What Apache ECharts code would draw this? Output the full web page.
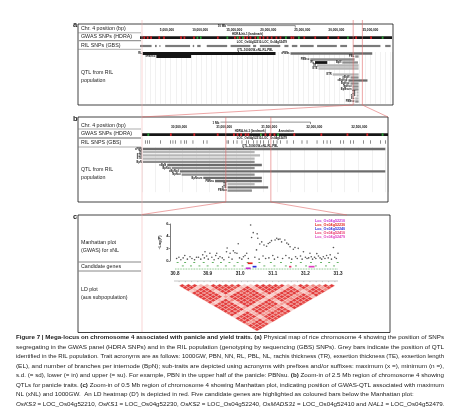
<!DOCTYPE html>
<html>
<head>
<meta charset="utf-8">
<script src="https://cdn.jsdelivr.net/npm/echarts@6/dist/echarts.min.js"></script>
<style>
  html, body { margin: 0; padding: 0; background: #fff; }
  #chart { width: 464px; height: 412px; }
</style>
</head>
<body>
<div id="chart"></div>
<script>
// ---------- data ----------
// chromosome coordinates in Mb
const ticksA = [5, 10, 15, 20, 25, 30, 35];
const ticksB = [30.5, 31.0, 31.5, 32.0, 32.5];
const zoomA = [31.3, 32.65];      // window of panel b, marked on a
const zoomB = [30.93, 31.43];     // window of panel c, marked on b
const scaleA = [12.8, 10];        // 10 Mb ruler
const scaleB = [30.87, 1];        // 1 Mb ruler

// GWAS (HDRA) SNP track, coloured hits
const gwasRedA = [0.5, 1.0, 1.5, 2.7, 3.4, 5.9, 6.4, 7.8, 11.3, 13.8, 14.5, 15.2, 15.6, 16.1, 16.8, 17.5, 18.0, 18.6, 19.2, 19.9, 20.5, 22.1, 22.4, 24.0, 25.6, 27.5, 29.0, 31.6, 33.8];
const gwasGreenA = [8.3, 8.8, 12.7, 14.2, 15.0, 17.2, 21.3, 23.2, 30.4, 35.5];
const gwasRedB = [30.31, 30.57, 30.83, 31.01, 31.05, 31.09, 31.14, 31.17, 31.31, 31.36, 31.41, 31.46, 31.68, 31.98, 32.27, 32.49];
const gwasGreenB = [30.06, 31.31, 31.5, 32.66];

// RIL (GBS) SNP track
const rilA = [[0, 1.7], [2.2, 2.45], [2.85, 3.0], [3.7, 7.35], [7.75, 7.95], [8.4, 8.9], [9.8, 12.8], [13.3, 16.2], [16.6, 17.05], [17.6, 20.6], [21.2, 21.8], [22.3, 23.1], [23.5, 25.5], [26.0, 28.9], [29.4, 30.4], [31.3, 35.3], [36.0, 36.8]];
const rilB = [30.033, 30.059, 30.081, 30.2, 30.311, 30.34, 30.366, 30.429, 30.466, 30.488, 30.562, 30.681, 30.718, 30.94, 30.958, 31.013, 31.051, 31.106, 31.154, 31.18, 31.236, 31.273, 31.31, 31.347, 31.4, 31.457, 31.495, 31.532, 31.606, 31.68, 31.772, 31.828, 31.939, 32.013, 32.05, 32.087, 32.198, 32.235, 32.309, 32.345, 32.456, 32.531, 32.642, 32.697];

// annotation labels on the tracks
const annotTextA = ['HDRA-hit-1 (landmark)', 'LOC_Os04g52210-LOC_Os04g52479', 'QTL-1000GW-xNL-RL-PBL'];
const annotPosA = [15.8, 17.9, 16.9];
const annotTextB = ['HDRA-hit-1 (landmark)', 'Annotation', 'LOC_Os04g52210-LOC_Os04g52479', 'QTL-1000GW-xNL-RL-PBL'];
const annotPosB = [31.2, 31.6, 31.33, 31.31];

// QTL from RIL population: [start Mb, end Mb, track, shade, trait]
const qtlA = [
  [0.4, 19.9, 0, 0, 'RL'],
  [22.1, 34.1, 0, 1, 'xPBNs'],
  [2.4, 7.5, 1, 0, 'xPBNsu'],
  [31.6, 32.1, 1, 2, 'PBL'],
  [25.0, 31.5, 2, 2, 'PBNsu'],
  [25.7, 27.5, 3, 0, 'RL'],
  [29.7, 32.0, 3, 2, 'BpN'],
  [26.0, 32.1, 4, 3, 'TR'],
  [26.2, 32.1, 5, 3, 'ETE'],
  [28.3, 32.1, 7, 3, 'ETR'],
  [30.9, 32.1, 8, 2, 'nBpN'],
  [30.6, 33.4, 9, 1, 'xBpNsd'],
  [30.9, 32.1, 10, 2, 'BpNsu'],
  [31.2, 32.1, 11, 2, 'NpNsu'],
  [31.2, 32.1, 12, 2, 'BpNsum'],
  [31.8, 32.1, 13, 3, 'TE'],
  [31.8, 32.1, 14, 3, 'nTE'],
  [31.6, 32.1, 15, 3, 'EL'],
  [31.6, 32.1, 16, 2, 'PBNsu']
];
const qtlB = [
  [30.01, 32.70, 0, 1, 'xPBN'],
  [30.01, 31.25, 1, 3, 'TR'],
  [30.01, 31.31, 2, 3, 'ETR'],
  [30.01, 31.25, 3, 3, 'ETE'],
  [30.01, 31.25, 4, 2, 'BpN'],
  [30.28, 31.33, 5, 1, 'nBpN'],
  [30.33, 31.25, 6, 2, 'BpNsu'],
  [30.42, 32.70, 7, 1, 'xBpNsd'],
  [30.44, 31.25, 8, 2, 'NpNsu'],
  [30.68, 31.33, 9, 1, 'BpNsum'],
  [30.81, 31.33, 10, 1, 'PBNsu'],
  [30.95, 31.25, 11, 3, 'TE'],
  [30.95, 31.40, 12, 1, 'nTE'],
  [30.95, 31.22, 13, 2, 'PBNsu']
];

// Manhattan plot (GWAS) for xNL
const snpPos = [30.892, 30.897, 30.907, 30.928, 30.938, 30.958, 30.96, 30.969, 30.979, 30.984, 30.99, 30.994, 31.01, 31.02,
  31.032, 31.035, 31.04, 31.05, 31.052, 31.054, 31.06, 31.066, 31.073, 31.081, 31.086, 31.091, 31.096, 31.107, 31.112, 31.117,
  31.122, 31.127, 31.137, 31.143, 31.148, 31.153, 31.163, 31.168, 31.178, 31.194, 31.214, 31.235, 31.276, 31.286, 31.30,
  30.805, 30.812, 30.818, 30.825, 30.83, 30.838, 30.846, 30.852, 30.86, 30.866, 30.872, 30.879, 30.885, 30.89, 30.902,
  30.913, 30.92, 30.925, 30.933, 30.945, 30.95, 30.965, 30.975, 30.998, 31.005, 31.015, 31.025, 31.045, 31.058, 31.07,
  31.078, 31.088, 31.1, 31.105, 31.115, 31.13, 31.14, 31.15, 31.158, 31.17, 31.175, 31.185, 31.19, 31.2, 31.205,
  31.21, 31.218, 31.222, 31.228, 31.232, 31.24, 31.245, 31.25, 31.255, 31.26, 31.265, 31.27, 31.28, 31.29, 31.295];
const snpLogP = [1.5, 0.8, 1.25, 1.25, 0.7, 1.5, 2.1, 1.25, 1.65, 1.35, 1.25, 2.8, 0.7, 1.25,
  5.85, 3.8, 4.6, 1.8, 4.4, 3.7, 2.75, 3.1, 2.6, 2.4, 2.85, 3.0, 3.3, 3.4, 3.7, 3.5,
  3.55, 3.1, 3.4, 2.9, 2.7, 2.3, 1.9, 2.2, 2.05, 1.5, 1.25, 1.2, 1.0, 2.2, 1.25,
  0.4, 0.6, 0.2, 0.5, 0.9, 0.3, 0.7, 0.4, 0.2, 0.6, 0.6, 0.3, 1.0, 0.5, 0.3,
  0.6, 0.2, 0.9, 0.4, 0.5, 0.2, 0.6, 0.3, 0.5, 0.3, 0.9, 0.4, 0.6, 0.3, 0.8,
  0.4, 0.5, 0.9, 0.3, 0.6, 0.4, 0.9, 0.5, 0.3, 0.7, 0.4, 0.8, 0.3, 0.6, 0.4,
  0.5, 0.7, 0.3, 0.6, 0.4, 0.8, 0.5, 0.3, 0.7, 0.4, 0.9, 0.5, 0.3, 0.6, 0.4];

// gene models (green) and candidate genes
const geneRowTop = [30.805, 30.828, 30.856, 30.885, 30.913, 30.938, 30.964, 30.989, 31.02, 31.056, 31.091, 31.122, 31.153, 31.183, 31.214, 31.245, 31.27, 31.296];
const geneRowMid = [30.821, 30.846, 30.872, 30.897, 30.928, 30.953, 30.979, 31.004, 31.071, 31.102, 31.137, 31.168, 31.199, 31.229, 31.26, 31.285];
const candNames = ['Loc_Os04g52210', 'Loc_Os04g52230', 'Loc_Os04g52240', 'Loc_Os04g52410', 'Loc_Os04g52479'];
const candStart = [31.017, 31.023, 31.038, 31.150, 31.210];
const candEnd = [31.032, 31.038, 31.050, 31.157, 31.228];
const candTrack = [2, 0, 1, 1, 1];

// LD heatmap (D'), aus subpopulation: row i holds D' level (0-9) for markers j > i
const ldRows = [
  '9982989979398997929895989',
  '993899899289989938994899',
  '92998998399899829985998',
  '3999899298998939894998',
  '324232435232423342353',
  '99899399899928995899',
  '9899298998939984998',
  '998399989929895989',
  '87278788738784787',
  '9399899829985998',
  '298998939894989',
  '23424325324232',
  '9989928995899',
  '999839984998',
  '89929895989',
  '9839984998',
  '928995899',
  '39894989',
  '3242353',
  '995899',
  '84998',
  '5989',
  '545',
  '98',
  '9'
];

// ---------- styles ----------
const FONT = "'Liberation Sans', Arial, Helvetica, sans-serif";
const shadeColors = ['#151515', '#6c6c6c', '#8d8d8d', '#b6b6b6'];
const stripStyles = [
  { h: 2.6, fill: '#161616' },
  { h: 2.6, fill: '#d3262b' },
  { h: 2.6, fill: '#2f9e3b' },
  { h: 2.2, fill: '#7a7a7a' },
  { h: 3.4, fill: '#4a4a4a' }
];
const candColors = ['#c42fd0', '#e2231a', '#2b2bd9', '#e8336b', '#e040c0'];
const ldColors = ['#ffffff', '#fbe2e0', '#f8cdc9', '#f5b6b1', '#f29e98', '#ef8780', '#ec716b', '#e95e59', '#e64b48', '#e23a3a'];

// track rows (layout)
const rowsA = { scale: -9.3, ticks: -7.8, annot: [-6.4, -3.9, -1.1], gwas: -5.3, ril: -2.5 };
const rowsB = { scale: -8.4, ticks: -6.9, annot: [-5.7, -5.7, -3.4, -0.8], gwas: -4.5, ril: -2.2 };

function font(w, s) { return w + ' ' + s + 'px ' + FONT; }
function textStyle(text, x, y, size, weight, align, fill) {
  return { text: text, x: x, y: y, fill: fill || '#111', font: font(weight || 'normal', size),
    align: align || 'left', verticalAlign: 'middle', textAlign: align || 'left', textVerticalAlign: 'middle' };
}

// ---------- track items ----------
function stripItems(gwasSpan, red, green, redW, gwasRow, rilSegs, rilRow) {
  const out = [[gwasSpan[0], gwasSpan[1], gwasRow, 0]];
  red.forEach(p => out.push([p, p + redW, gwasRow, 1]));
  green.forEach(p => out.push([p, p + redW, gwasRow, 2]));
  rilSegs.forEach(s => out.push([s[0], s[1], rilRow, s[2]]));
  return out;
}
const stripA = stripItems([0, 37], gwasRedA, gwasGreenA, 0.25, rowsA.gwas, rilA.map(s => [s[0], s[1], 3]), rowsA.ril);
const stripB = stripItems([30.0, 32.73], gwasRedB, gwasGreenB, 0.02, rowsB.gwas, rilB.map(p => [p, p + 0.007, 4]), rowsB.ril);

function renderStrip(params, api) {
  const st = stripStyles[api.value(3)];
  const p0 = api.coord([api.value(0), api.value(2)]);
  const p1 = api.coord([api.value(1), api.value(2)]);
  return { type: 'rect', shape: { x: p0[0], y: p0[1] - st.h / 2, width: Math.max(p1[0] - p0[0], 0.6), height: st.h },
    style: { fill: st.fill } };
}
function renderTick(params, api) {
  const p = api.coord([api.value(0), api.value(1)]);
  const label = Math.round(api.value(0) * 1e6).toLocaleString('en-US');
  return { type: 'text', style: textStyle(label, p[0], p[1], 3.2, 'bold', 'right') };
}
function renderScale(label) {
  return function (params, api) {
    const p0 = api.coord([api.value(0), api.value(2)]);
    const p1 = api.coord([api.value(1), api.value(2)]);
    return { type: 'group', children: [
      { type: 'line', shape: { x1: p0[0], y1: p0[1], x2: p1[0], y2: p1[1] }, style: { stroke: '#222', lineWidth: 0.5 } },
      { type: 'line', shape: { x1: p1[0], y1: p1[1], x2: p1[0], y2: p1[1] + 2 }, style: { stroke: '#222', lineWidth: 0.5 } },
      { type: 'text', style: textStyle(label, p0[0] - 1, p0[1] + 0.8, 3, 'bold', 'right') }
    ] };
  };
}
function renderAnnot(texts) {
  return function (params, api) {
    const p = api.coord([api.value(0), api.value(1)]);
    return { type: 'text', style: textStyle(texts[params.dataIndex], p[0], p[1], 2.9, 'bold', 'center') };
  };
}
function renderQtl(list) {
  return function (params, api) {
    const it = list[params.dataIndex];
    const p0 = api.coord([it[0], it[2]]);
    const p1 = api.coord([it[1], it[2]]);
    const h = it[3] === 0 ? 2.8 : 2.3;
    return { type: 'group', children: [
      { type: 'rect', shape: { x: p0[0], y: p0[1] - h / 2, width: Math.max(p1[0] - p0[0], 0.8), height: h },
        style: { fill: shadeColors[it[3]] } },
      { type: 'text', style: textStyle(it[4], p0[0] - 1, p0[1], 2.6, 'bold', 'right') }
    ] };
  };
}

// ---------- panel c items ----------
const geneItems = [];
geneRowTop.forEach(p => geneItems.push([p, p + 0.006, -0.25, 0]));
geneRowMid.forEach(p => geneItems.push([p, p + 0.006, -0.8, 0]));
geneItems.push([30.8, 31.3, -1.3, 1]);
candStart.forEach((s, i) => geneItems.push([s, candEnd[i], [-0.37, -0.92, -1.18][candTrack[i]], 2 + i]));

function renderGene(params, api) {
  const code = api.value(3);
  const p0 = api.coord([api.value(0), api.value(2)]);
  const p1 = api.coord([api.value(1), api.value(2)]);
  if (code === 1) {
    return { type: 'line', shape: { x1: p0[0], y1: p0[1], x2: p1[0], y2: p1[1] },
      style: { stroke: '#3f9f3f', lineWidth: 0.7, lineDash: [0.8, 0.8] } };
  }
  const h = code === 0 ? 0.8 : 1.7;
  return { type: 'rect', shape: { x: p0[0], y: p0[1] - h / 2, width: p1[0] - p0[0], height: h },
    style: { fill: code === 0 ? '#3f9f3f' : candColors[code - 2] } };
}

const N_LD = ldRows.length + 1;
const ldCells = [];
ldRows.forEach((row, i) => {
  for (let k = 0; k < row.length && i + 1 + k < N_LD; k++) ldCells.push([i, i + 1 + k, +row[k]]);
});
function renderLD(params, api) {
  const i = api.value(0), j = api.value(1), v = api.value(2);
  const cx = (i + j + 1) / 2, d = (j - i) / 2;
  const pts = [[cx - 0.5, d], [cx, d - 0.5], [cx + 0.5, d], [cx, d + 0.5]].map(p => api.coord(p));
  return { type: 'polygon', shape: { points: pts }, style: { fill: ldColors[v], stroke: '#fbe6e4', lineWidth: 0.3 } };
}
const ldTicks = [];
for (let i = 0; i < N_LD; i++) ldTicks.push([i + 0.5, 0]);
function renderLdTick(params, api) {
  const p = api.coord([api.value(0), 0]);
  return { type: 'line', shape: { x1: p[0], y1: p[1] - 3, x2: p[0], y2: p[1] - 1.8 }, style: { stroke: '#888', lineWidth: 0.4 } };
}

// ---------- chart ----------
const chart = echarts.init(document.getElementById('chart'));
const hidden = { show: false };
function trackAxis(grid, min, max, interval) {
  return { gridIndex: grid, type: 'value', min: min, max: max, interval: interval,
    axisLine: hidden, axisTick: hidden, axisLabel: hidden,
    splitLine: { show: true, lineStyle: { color: '#e2e2e2', width: 0.5 } } };
}
function custom(x, y, renderItem, data) {
  return { type: 'custom', xAxisIndex: x, yAxisIndex: y, clip: false, silent: true, renderItem: renderItem, data: data };
}

const series = [
  custom(0, 0, renderStrip, stripA),
  custom(0, 0, renderTick, ticksA.map(t => [t, rowsA.ticks])),
  custom(0, 0, renderScale('10 Mb'), [[scaleA[0], scaleA[0] + scaleA[1], rowsA.scale]]),
  custom(0, 0, renderAnnot(annotTextA), annotPosA.map((p, i) => [p, rowsA.annot[i]])),
  custom(0, 0, renderQtl(qtlA), qtlA.map(d => d.slice(0, 4))),
  custom(1, 1, renderStrip, stripB),
  custom(1, 1, renderTick, ticksB.map(t => [t, rowsB.ticks])),
  custom(1, 1, renderScale('1 Mb'), [[scaleB[0], scaleB[0] + scaleB[1], rowsB.scale]]),
  custom(1, 1, renderAnnot(annotTextB), annotPosB.map((p, i) => [p, rowsB.annot[i]])),
  custom(1, 1, renderQtl(qtlB), qtlB.map(d => d.slice(0, 4))),
  { type: 'scatter', xAxisIndex: 2, yAxisIndex: 2, silent: true, symbolSize: 1.6,
    itemStyle: { color: '#2a2a2a' }, data: snpPos.map((p, i) => [p, snpLogP[i]]) },
  custom(2, 2, renderGene, geneItems),
  custom(3, 3, renderLD, ldCells),
  custom(3, 3, renderLdTick, ldTicks)
];

// ---------- static graphics ----------
function T(text, x, y, size, weight, fill, align) {
  return { type: 'text', z: 50, silent: true, style: textStyle(text, x, y, size, weight, align, fill || '#222') };
}
function Ln(x1, y1, x2, y2, color, w) {
  return { type: 'line', z: 60, silent: true, shape: { x1: x1, y1: y1, x2: x2, y2: y2 }, style: { stroke: color, lineWidth: w } };
}
function Box(x, y, w, h) {
  return { type: 'rect', z: 60, silent: true, shape: { x: x, y: y, width: w, height: h }, style: { fill: 'none', stroke: '#111', lineWidth: 0.8 } };
}

const graphics = [
  Box(78, 24, 315, 81), Box(78, 117, 310, 85), Box(78, 215, 312, 117.5),
  T('a', 73, 25, 7.5, 'bold'), T('b', 73, 119, 7.5, 'bold'), T('c', 73, 216.5, 7.5, 'bold'),
  // panel a labels
  T('Chr. 4 position (bp)', 81, 29, 5.3), Ln(78, 32.8, 141, 32.8, '#777', 0.6),
  T('GWAS SNPs (HDRA)', 81, 36.6, 5.3), Ln(78, 40.6, 141, 40.6, '#999', 1.3),
  T('RIL SNPs (GBS)', 81, 45.4, 5.3), Ln(78, 49.3, 141, 49.3, '#777', 0.6),
  T('QTL from RIL', 81, 73, 5.3), T('population', 81, 80.5, 5.3),
  // panel b labels
  T('Chr. 4 position (bp)', 81, 125.5, 5.3), Ln(78, 129, 141, 129, '#777', 0.6),
  T('GWAS SNPs (HDRA)', 81, 133.5, 5.3), Ln(78, 138, 141, 138, '#999', 1.3),
  T('RIL SNPS (GBS)', 81, 142.5, 5.3), Ln(78, 147, 141, 147, '#777', 0.6),
  T('QTL from RIL', 81, 170, 5.3), T('population', 81, 177.5, 5.3),
  // panel c labels
  T('Manhattan plot', 81, 243, 5.3), T('(GWAS) for xNL', 81, 250.5, 5.3),
  Ln(78, 262, 141, 262, '#888', 1),
  T('Candidate genes', 81, 266.6, 5.3),
  Ln(78, 271, 141, 271, '#888', 1),
  T('LD plot', 81, 290, 5.3), T('(aus subpopulation)', 81, 297.5, 5.3),
  Ln(174, 281, 338, 281, '#888', 0.5)
];
candNames.forEach((n, i) => graphics.push(T(n, 315, 221 + i * 3.9, 3.7, 'bold', candColors[i])));

// caption, each line stretched to the column width
const capSegs = [
  [['b', 'Figure 7 | Mega-locus on chromosome 4 associated with panicle and yield traits. '], ['b', '(a)'], ['n', ' Physical map of rice chromosome 4 showing the position of SNPs']],
  [['n', 'segregating in the GWAS panel (HDRA SNPs) and in the RIL population (genotyping by sequencing (GBS) SNPs). Grey bars indicate the position of QTL']],
  [['n', 'identified in the RIL population. Trait acronyms are as follows: 1000GW, PBN, NN, RL, PBL, NL, rachis thickness (TR), exsertion thickness (TE), exsertion length']],
  [['n', '(EL), and number of branches per internode (BpN); sub-traits are depicted using acronyms with prefixes and/or suffixes: maximum (x =), minimum (n =),']],
  [['n', 's.d. (= sd), lower (= in) and upper (= su). For example, PBN in the upper half of the panicle: PBNsu. '], ['b', '(b)'], ['n', ' Zoom-in of 2.5 Mb region of chromosome 4 showing']],
  [['n', 'QTLs for panicle traits. '], ['b', '(c)'], ['n', ' Zoom-in of 0.5 Mb region of chromosome 4 showing Manhattan plot, indicating position of GWAS-QTL associated with maximum']],
  [['n', 'NL (xNL) and 1000GW.  An LD heatmap (D\u2032) is depicted in red. Five candidate genes are highlighted as coloured bars below the Manhattan plot:']],
  [['i', 'OsKS3'], ['n', ' = LOC_Os04g52210, '], ['i', 'OsKS1'], ['n', ' = LOC_Os04g52230, '], ['i', 'OsKS2'], ['n', ' = LOC_Os04g52240, '], ['i', 'OsMADS31'], ['n', ' = LOC_Os04g52410 and '], ['i', 'NAL1'], ['n', ' = LOC_Os04g52479.']]
];
const capY = [337.5, 347, 356.5, 366, 375.5, 385, 394.5, 404];
const capJustify = [true, true, true, true, true, true, false, false];
const CAP_SIZE = 5.8, CAP_X = 16, CAP_W = 428;
const mctx = document.createElement('canvas').getContext('2d');
function segFont(kind) { return font(kind === 'b' ? 'bold' : (kind === 'i' ? 'italic' : 'normal'), CAP_SIZE); }
const capWidths = capSegs.map(segs => segs.reduce((w, s) => { mctx.font = segFont(s[0]); return w + mctx.measureText(s[1]).width; }, 0));
const justScales = capWidths.filter((w, i) => capJustify[i]).map(w => CAP_W / w);
const meanScale = justScales.reduce((a, b) => a + b, 0) / justScales.length;
capSegs.forEach((segs, li) => {
  let x = 0;
  const children = segs.map(s => {
    mctx.font = segFont(s[0]);
    const el = { type: 'text', silent: true, x: x, style: { text: s[1], x: 0, y: 0, fill: '#1a1a1a', font: segFont(s[0]),
      align: 'left', verticalAlign: 'middle', textAlign: 'left', textVerticalAlign: 'middle' } };
    x += mctx.measureText(s[1]).width;
    return el;
  });
  graphics.push({ type: 'group', x: CAP_X, y: capY[li], scaleX: capJustify[li] ? CAP_W / capWidths[li] : meanScale, children: children });
});

chart.setOption({
  animation: false,
  backgroundColor: '#ffffff',
  grid: [
    { left: 140, top: 52, width: 252, height: 51.75, outerBoundsMode: 'none' },
    { left: 142, top: 147.4, width: 246, height: 44.8, outerBoundsMode: 'none' },
    { left: 175, top: 224, width: 163, height: 37, outerBoundsMode: 'none' },
    { left: 176, top: 284, width: 162, height: 47, outerBoundsMode: 'none' }
  ],
  xAxis: [
    trackAxis(0, 0, 37, 0.75),
    trackAxis(1, 30.0, 32.73, 0.15),
    { gridIndex: 2, type: 'value', min: 30.8, max: 31.3, interval: 0.1,
      axisLine: hidden, axisTick: hidden, splitLine: hidden,
      axisLabel: { fontSize: 4.6, fontWeight: 'bold', color: '#222', margin: 10.5, fontFamily: FONT, formatter: v => v.toFixed(1) } },
    { gridIndex: 3, type: 'value', min: 0, max: N_LD, show: false }
  ],
  yAxis: [
    { gridIndex: 0, type: 'value', min: -0.5, max: 16.75, inverse: true, show: false },
    { gridIndex: 1, type: 'value', min: -0.5, max: 13.5, inverse: true, show: false },
    { gridIndex: 2, type: 'value', min: 0, max: 6, interval: 2, offset: 5,
      axisLine: { show: true, lineStyle: { color: '#222', width: 0.6 } },
      axisTick: { show: true, length: 1.5, lineStyle: { color: '#222', width: 0.5 } },
      axisLabel: { fontSize: 4, fontWeight: 'bold', color: '#222', margin: 1.5, fontFamily: FONT },
      splitLine: hidden,
      name: '\u2212Log(P)', nameLocation: 'middle', nameGap: 8, nameRotate: 90,
      nameTextStyle: { fontSize: 3.8, fontWeight: 'bold', color: '#222', fontFamily: FONT } },
    { gridIndex: 3, type: 'value', min: 0, max: N_LD / 2, inverse: true, show: false }
  ],
  series: series,
  graphic: { elements: graphics }
});

// zoom guides, placed through the track scales
const xa = zoomA.map(v => chart.convertToPixel({ xAxisIndex: 0 }, v));
const xb = zoomB.map(v => chart.convertToPixel({ xAxisIndex: 1 }, v));
const RED = '#e06a6a';
chart.setOption({ graphic: { elements: [
  Object.assign(Ln(142, 20, 142, 332, '#f0a8a8', 0.5), { id: 'g0' }),
  Object.assign(Ln(xa[0], 20, xa[0], 105, RED, 0.6), { id: 'g1' }),
  Object.assign(Ln(xa[1], 20, xa[1], 105, RED, 0.6), { id: 'g2' }),
  Object.assign(Ln(xa[0], 105, 142, 117, RED, 0.6), { id: 'g3' }),
  Object.assign(Ln(xa[1], 105, 388, 117, RED, 0.6), { id: 'g4' }),
  Object.assign(Ln(xb[0], 117, xb[0], 202, RED, 0.6), { id: 'g5' }),
  Object.assign(Ln(xb[1], 117, xb[1], 202, RED, 0.6), { id: 'g6' }),
  Object.assign(Ln(xb[0], 202, 142, 214.5, RED, 0.6), { id: 'g7' }),
  Object.assign(Ln(xb[1], 202, 347, 215, RED, 0.6), { id: 'g8' })
] } });
</script>
</body>
</html>
